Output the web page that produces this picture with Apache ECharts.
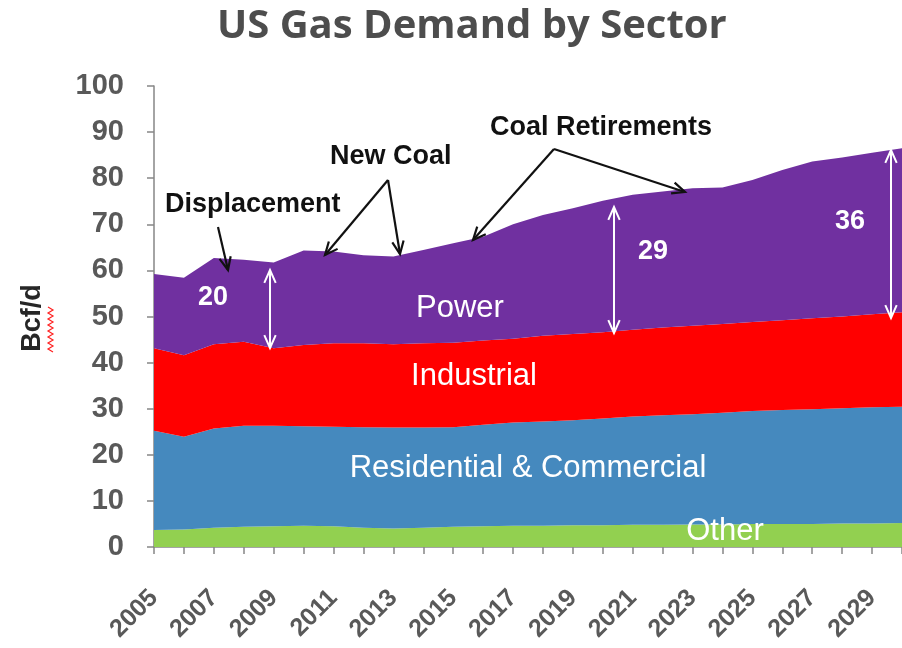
<!DOCTYPE html>
<html>
<head>
<meta charset="utf-8">
<script src="https://cdn.jsdelivr.net/npm/echarts@6/dist/echarts.min.js"></script>
<style>
  html, body { margin: 0; padding: 0; background: #fff; }
  #chart { width: 902px; height: 648px; }
</style>
</head>
<body>
<div id="chart"></div>
<script>
(() => {
    const years = [];
    for (let y = 2005; y <= 2030; y++) years.push(String(y));

    // Bcf/d
    const other = [3.7, 3.8, 4.2, 4.4, 4.5, 4.6, 4.5, 4.2, 4.0, 4.2, 4.4, 4.5, 4.6,
                   4.6, 4.7, 4.7, 4.8, 4.8, 4.9, 4.9, 5.0, 5.0, 5.0, 5.1, 5.1, 5.2];
    const residential = [21.5, 20.1, 21.5, 21.9, 21.8, 21.6, 21.6, 21.8, 21.9, 21.7, 21.6, 22.0, 22.4,
                         22.6, 22.8, 23.2, 23.5, 23.8, 23.9, 24.2, 24.5, 24.7, 24.9, 25.0, 25.2, 25.2];
    const industrial = [17.9, 17.7, 18.3, 18.2, 16.8, 17.6, 18.1, 18.2, 18.1, 18.3, 18.3, 18.3, 18.2,
                        18.6, 18.7, 18.7, 18.8, 19.0, 19.2, 19.3, 19.3, 19.5, 19.7, 19.9, 20.2, 20.5];
    const power = [16.1, 16.8, 18.7, 17.8, 18.6, 20.5, 19.9, 19.1, 19.0, 20.2, 21.6, 22.5, 24.8,
                   26.2, 27.3, 28.5, 29.3, 29.5, 29.8, 29.6, 30.8, 32.6, 34.0, 34.5, 35.0, 35.6];

    const COLORS = {
        other: '#92D050',
        residential: '#4589BE',
        industrial: '#FF0000',
        power: '#7030A0'
    };
    const FONT = '"Liberation Sans", Arial, sans-serif';

    function area(name, data, color) {
        return {
            name: name,
            type: 'line',
            stack: 'total',
            data: data,
            symbol: 'none',
            lineStyle: {width: 0},
            areaStyle: {color: color, opacity: 1},
            itemStyle: {color: color},
            silent: true
        };
    }

    // arrow line with open V heads
    function arrow(x1, y1, x2, y2, color, width, both) {
        const items = [{
            type: 'line',
            z: 100,
            shape: {x1: x1, y1: y1, x2: x2, y2: y2},
            style: {stroke: color, lineWidth: width}
        }];
        const head = (ax, ay, bx, by) => {
            const ang = Math.atan2(ay - by, ax - bx);
            const len = 14, spread = 0.42;
            items.push({
                type: 'polyline',
                z: 100,
                shape: {points: [
                    [ax - len * Math.cos(ang - spread), ay - len * Math.sin(ang - spread)],
                    [ax, ay],
                    [ax - len * Math.cos(ang + spread), ay - len * Math.sin(ang + spread)]
                ]},
                style: {stroke: color, lineWidth: width, fill: null}
            });
        };
        head(x2, y2, x1, y1);
        if (both) head(x1, y1, x2, y2);
        return items;
    }

    function label(text, x, y, opts) {
        return {
            type: 'text',
            z: 100,
            x: x, y: y,
            style: Object.assign({
                text: text,
                fill: '#fff',
                font: '31px ' + FONT,
                align: 'center',
                verticalAlign: 'middle'
            }, opts || {})
        };
    }

    const black = {fill: '#111', font: 'bold 27px ' + FONT, align: 'left'};
    const whiteNum = {font: 'bold 27px ' + FONT};

    let squiggle = [];
    for (let i = 0; i <= 15; i++) squiggle.push([i % 2 ? 53 : 48, 307 + i * 3]);

    const graphics = [].concat(
        arrow(218, 227, 228, 270, '#111', 2.2, false),
        arrow(388, 180, 325, 255, '#111', 2.2, false),
        arrow(388, 180, 400, 254, '#111', 2.2, false),
        arrow(554, 149, 473, 240, '#111', 2.2, false),
        arrow(554, 149, 685, 192, '#111', 2.2, false),
        arrow(270, 270, 270, 348, '#fff', 2, true),
        arrow(614, 207, 614, 333, '#fff', 2, true),
        arrow(891, 150, 891, 318, '#fff', 2, true),
        [
            label('Displacement', 165, 205, black),
            label('New Coal', 330, 157, black),
            label('Coal Retirements', 490, 128, black),
            label('20', 213, 298, whiteNum),
            label('29', 653, 252, whiteNum),
            label('36', 850, 222, whiteNum),
            label('Power', 460, 308),
            label('Industrial', 474, 376),
            label('Residential & Commercial', 528, 468),
            label('Other', 725, 531),
            {
                type: 'text', z: 100, x: 33, y: 318, rotation: Math.PI / 2,
                style: {text: 'Bcf/d', fill: '#262626', font: 'bold 27px ' + FONT,
                        align: 'center', verticalAlign: 'middle'}
            },
            {
                type: 'polyline',
                z: 100,
                shape: {points: squiggle},
                style: {stroke: '#ff2020', lineWidth: 1.2, fill: null}
            }
        ]
    );

    const chart = echarts.init(document.getElementById('chart'), null, {renderer: 'canvas'});
    chart.setOption({
        animation: false,
        backgroundColor: '#fff',
        title: {
            text: 'US Gas Demand by Sector',
            left: 212,
            top: 2,
            textStyle: {
                fontFamily: '"Open Sans", sans-serif',
                fontWeight: 'bold',
                fontSize: 40,
                color: '#4d4d4d'
            }
        },
        grid: {left: 154, top: 86, width: 750, height: 461, containLabel: false},
        xAxis: {
            type: 'category',
            data: years,
            boundaryGap: false,
            axisLine: {lineStyle: {color: '#868686', width: 1.5}},
            axisTick: {interval: 0, length: 7, lineStyle: {color: '#868686', width: 1.5}},
            axisLabel: {
                interval: 1,
                rotate: 45,
                margin: 47,
                color: '#595959',
                fontWeight: 'bold',
                fontSize: 25,
                fontFamily: FONT
            },
            splitLine: {show: false}
        },
        yAxis: {
            type: 'value',
            min: 0,
            max: 100,
            interval: 10,
            axisLine: {show: true, lineStyle: {color: '#868686', width: 1.5}},
            axisTick: {show: true, length: 7, lineStyle: {color: '#868686', width: 1.5}},
            axisLabel: {
                margin: 30,
                color: '#595959',
                fontWeight: 'bold',
                fontSize: 29,
                fontFamily: FONT
            },
            splitLine: {show: false}
        },
        series: [
            area('Other', other, COLORS.other),
            area('Residential & Commercial', residential, COLORS.residential),
            area('Industrial', industrial, COLORS.industrial),
            area('Power', power, COLORS.power)
        ],
        graphic: graphics
    });
})();
</script>
</body>
</html>
